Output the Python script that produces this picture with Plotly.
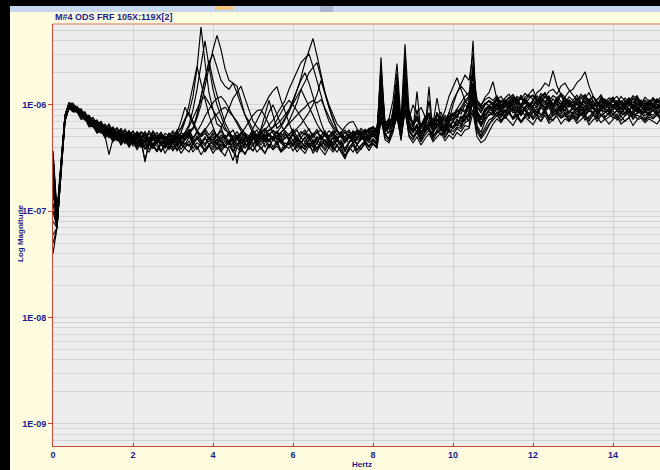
import plotly.graph_objects as go

# Frequency grid (Hz), 0.0 .. 15.2 in 0.1 Hz steps
FREQ = [round(i * 0.1, 1) for i in range(153)]
UNIT = 1e-8  # values below are in units of 1e-8

T01 = [35, 9, 27, 78, 104, 92, 94, 80, 77, 66,
       68, 58, 62, 52, 58, 49, 55, 46, 53, 44,
       51, 42, 50, 44, 49, 40, 48, 43, 47, 52,
       48, 58, 60, 74, 85, 120, 220, 540, 250, 130,
       90, 66, 62, 48, 54, 42, 50, 40, 49, 43,
       50, 41, 47, 52, 39, 48, 44, 51, 40, 47,
       53, 42, 49, 45, 51, 40, 48, 52, 41, 47,
       44, 51, 39, 46, 53, 43, 49, 55, 46, 52,
       58, 50, 180, 62, 66, 56, 95, 54, 200, 68,
       57, 90, 52, 66, 84, 55, 72, 78, 56, 70,
       60, 74, 64, 80, 70, 250, 88, 64, 85, 100,
       86, 102, 80, 97, 88, 110, 84, 98, 92, 80,
       96, 85, 104, 90, 112, 95, 83, 99, 88, 103,
       92, 80, 98, 110, 87, 96, 82, 100, 91, 85,
       99, 88, 94, 82, 101, 90, 86, 97, 84, 93,
       89, 97, 85]

T02 = [12, 7, 24, 72, 98, 101, 88, 86, 74, 76,
       65, 70, 60, 64, 55, 61, 52, 58, 50, 55,
       47, 55, 49, 45, 54, 48, 52, 44, 51, 47,
       55, 46, 52, 48, 58, 60, 75, 100, 150, 230,
       330, 450, 330, 220, 170, 160, 130, 100, 80, 70,
       58, 52, 57, 46, 53, 49, 56, 45, 52, 48,
       55, 47, 53, 58, 49, 54, 45, 51, 57, 48,
       52, 46, 55, 49, 44, 53, 58, 50, 55, 60,
       54, 63, 110, 58, 70, 62, 120, 72, 370, 90,
       64, 76, 60, 70, 62, 75, 72, 64, 58, 78,
       74, 90, 82, 100, 92, 150, 80, 68, 75, 90,
       98, 110, 92, 104, 96, 115, 100, 90, 108, 97,
       105, 94, 112, 100, 120, 98, 106, 92, 110, 101,
       96, 108, 100, 91, 112, 103, 95, 114, 99, 104,
       110, 97, 102, 93, 108, 99, 115, 96, 104, 100,
       95, 107, 101]

T03 = [37, 10, 29, 80, 102, 99, 86, 85, 72, 73,
       62, 66, 56, 60, 50, 55, 47, 53, 45, 50,
       43, 48, 41, 47, 45, 39, 46, 42, 48, 40,
       46, 42, 49, 55, 65, 90, 140, 240, 400, 230,
       140, 100, 80, 62, 52, 46, 42, 48, 39, 45,
       41, 47, 38, 44, 48, 40, 46, 37, 44, 42,
       47, 39, 45, 41, 48, 43, 38, 46, 42, 49,
       40, 46, 43, 37, 44, 48, 42, 50, 45, 48,
       52, 46, 280, 60, 54, 90, 150, 58, 150, 64,
       55, 62, 50, 66, 58, 54, 68, 57, 62, 55,
       60, 66, 62, 75, 110, 400, 64, 55, 70, 82,
       80, 92, 76, 88, 82, 95, 78, 86, 90, 74,
       88, 80, 96, 84, 78, 92, 85, 99, 81, 87,
       83, 94, 79, 88, 97, 82, 76, 90, 86, 93,
       80, 89, 84, 95, 78, 88, 92, 81, 87, 79,
       90, 84, 88]

T04 = [20, 8, 25, 74, 100, 96, 97, 84, 84, 72,
       75, 63, 68, 58, 64, 54, 60, 51, 57, 49,
       56, 47, 55, 50, 46, 55, 49, 53, 45, 54,
       50, 57, 47, 53, 55, 60, 80, 120, 180, 250,
       300, 220, 170, 150, 140, 160, 150, 110, 80, 65,
       54, 58, 48, 56, 51, 47, 57, 50, 54, 46,
       53, 58, 49, 55, 46, 52, 59, 48, 54, 51,
       57, 47, 53, 50, 56, 48, 55, 52, 58, 54,
       62, 55, 120, 66, 74, 110, 245, 70, 130, 86,
       66, 78, 62, 72, 80, 64, 85, 70, 76, 68,
       82, 76, 90, 85, 110, 200, 95, 84, 100, 110,
       104, 118, 98, 112, 102, 125, 106, 96, 114, 100,
       110, 122, 104, 130, 112, 100, 118, 108, 95, 112,
       104, 116, 100, 124, 108, 98, 112, 120, 102, 110,
       118, 102, 109, 97, 114, 105, 120, 100, 110, 104,
       99, 112, 106]

T05 = [8, 7, 23, 70, 95, 88, 87, 76, 75, 64,
       64, 55, 58, 50, 54, 46, 51, 43, 49, 42,
       47, 40, 45, 38, 44, 41, 36, 43, 39, 45,
       38, 44, 55, 70, 100, 150, 230, 160, 110, 80,
       62, 50, 46, 40, 45, 37, 43, 39, 34, 41,
       37, 43, 39, 35, 42, 38, 44, 36, 41, 39,
       43, 36, 41, 38, 44, 35, 40, 42, 37, 43,
       38, 42, 36, 32, 39, 44, 37, 41, 45, 40,
       46, 42, 150, 54, 48, 70, 100, 50, 250, 60,
       50, 56, 47, 58, 148, 52, 55, 60, 49, 57,
       52, 60, 56, 64, 62, 120, 58, 52, 62, 72,
       76, 84, 72, 80, 88, 74, 82, 70, 79, 85,
       73, 81, 76, 86, 71, 79, 84, 75, 82, 70,
       80, 74, 85, 72, 78, 83, 70, 79, 76, 84,
       75, 82, 71, 79, 85, 73, 80, 77, 72, 81,
       76, 83, 74]

T06 = [28, 9, 26, 77, 99, 90, 91, 79, 79, 67,
       70, 60, 64, 54, 61, 51, 56, 49, 54, 46,
       52, 44, 50, 41, 48, 46, 51, 42, 49, 45,
       50, 42, 48, 51, 52, 60, 80, 120, 180, 260,
       170, 120, 90, 68, 58, 48, 52, 43, 50, 41,
       49, 44, 51, 40, 47, 50, 42, 48, 39, 46,
       41, 48, 44, 50, 40, 47, 43, 51, 45, 42,
       49, 41, 47, 36, 44, 50, 42, 48, 51, 46,
       53, 48, 130, 58, 62, 85, 200, 55, 110, 64,
       58, 133, 54, 66, 70, 56, 85, 60, 67, 58,
       70, 64, 76, 70, 85, 130, 72, 64, 80, 90,
       86, 98, 90, 84, 100, 88, 96, 82, 94, 102,
       90, 84, 99, 92, 105, 86, 95, 88, 101, 85,
       97, 89, 102, 84, 94, 99, 87, 95, 91, 86,
       93, 100, 85, 96, 90, 84, 98, 89, 94, 87,
       96, 88, 93]

T07 = [15, 8, 26, 79, 103, 104, 90, 92, 78, 80,
       68, 71, 62, 66, 57, 62, 54, 60, 51, 57,
       49, 56, 52, 48, 57, 50, 55, 47, 54, 51,
       57, 49, 55, 51, 58, 48, 56, 53, 60, 52,
       58, 51, 60, 75, 95, 115, 130, 150, 115, 90,
       70, 62, 56, 60, 51, 58, 54, 49, 57, 52,
       59, 50, 56, 52, 60, 49, 55, 58, 51, 57,
       53, 58, 50, 55, 49, 57, 52, 60, 55, 58,
       62, 56, 200, 66, 74, 70, 110, 64, 140, 76,
       68, 74, 64, 78, 70, 66, 116, 72, 80, 70,
       84, 78, 92, 88, 100, 160, 105, 95, 102, 110,
       100, 114, 96, 108, 118, 99, 106, 94, 112, 103,
       98, 110, 120, 130, 104, 96, 112, 102, 118, 97,
       108, 99, 115, 125, 100, 110, 94, 106, 113, 101,
       112, 96, 108, 102, 117, 98, 105, 111, 95, 107,
       102, 114, 99]

T08 = [5, 7, 24, 73, 96, 89, 89, 77, 77, 64,
       67, 57, 61, 52, 56, 47, 53, 45, 50, 42,
       48, 41, 46, 39, 45, 42, 37, 44, 40, 46,
       40, 45, 38, 44, 41, 47, 39, 43, 36, 42,
       45, 38, 43, 40, 46, 36, 42, 39, 44, 50,
       60, 72, 85, 100, 120, 135, 148, 110, 85, 68,
       54, 46, 42, 38, 44, 40, 36, 43, 39, 45,
       38, 42, 36, 31, 40, 44, 38, 42, 46, 41,
       47, 43, 90, 52, 48, 60, 80, 52, 300, 58,
       50, 55, 46, 57, 60, 49, 58, 52, 56, 70,
       100, 130, 160, 190, 170, 300, 80, 62, 74, 80,
       86, 78, 90, 74, 84, 92, 76, 88, 80, 94,
       77, 86, 80, 92, 74, 84, 89, 78, 85, 73,
       83, 76, 90, 80, 73, 87, 79, 92, 77, 84,
       89, 75, 84, 80, 91, 76, 83, 86, 74, 82,
       80, 87, 76]

T09 = [24, 8, 25, 75, 100, 92, 93, 79, 81, 67,
       69, 58, 64, 53, 59, 50, 55, 47, 52, 45,
       51, 43, 49, 45, 41, 48, 43, 50, 42, 47,
       43, 49, 41, 47, 51, 42, 48, 44, 50, 42,
       47, 43, 50, 40, 46, 49, 41, 48, 44, 50,
       43, 48, 42, 49, 46, 50, 55, 62, 72, 85,
       105, 135, 180, 250, 330, 420, 290, 190, 130, 95,
       75, 58, 52, 46, 50, 44, 49, 53, 46, 52,
       56, 50, 160, 60, 64, 70, 110, 57, 180, 64,
       57, 66, 54, 62, 68, 56, 64, 70, 58, 66,
       62, 70, 66, 76, 85, 140, 82, 72, 86, 94,
       88, 100, 92, 106, 98, 110, 102, 116, 108, 124,
       112, 130, 140, 160, 150, 210, 150, 125, 112, 100,
       92, 104, 96, 88, 101, 93, 108, 90, 99, 94,
       100, 89, 97, 105, 91, 98, 86, 102, 95, 90,
       98, 92, 103]

T10 = [32, 9, 28, 76, 99, 98, 85, 88, 72, 76,
       65, 68, 58, 63, 53, 59, 50, 56, 47, 53,
       45, 52, 46, 53, 44, 50, 47, 42, 51, 45,
       52, 44, 50, 47, 54, 43, 51, 46, 41, 50,
       46, 53, 44, 49, 42, 51, 47, 54, 45, 49,
       52, 46, 53, 58, 64, 72, 82, 95, 110, 140,
       170, 210, 250, 275, 300, 230, 170, 120, 90, 70,
       60, 52, 56, 45, 53, 48, 55, 50, 47, 55,
       50, 59, 100, 56, 66, 80, 170, 58, 120, 70,
       62, 56, 66, 58, 64, 70, 60, 67, 55, 63,
       70, 64, 78, 72, 80, 110, 84, 76, 90, 96,
       94, 104, 90, 100, 110, 95, 107, 98, 114, 102,
       96, 110, 104, 118, 108, 122, 115, 128, 118, 134,
       140, 162, 175, 205, 150, 122, 104, 95, 108, 92,
       99, 106, 93, 101, 110, 94, 103, 97, 88, 104,
       96, 102, 91]

T11 = [18, 8, 26, 80, 105, 99, 96, 85, 86, 73,
       76, 65, 70, 60, 66, 56, 61, 53, 59, 51,
       57, 49, 56, 52, 48, 57, 50, 55, 47, 54,
       50, 56, 47, 54, 58, 49, 55, 51, 57, 48,
       55, 50, 57, 47, 53, 58, 49, 55, 51, 47,
       56, 50, 54, 58, 57, 61, 66, 72, 80, 90,
       102, 118, 140, 165, 200, 225, 250, 180, 130, 100,
       82, 66, 60, 54, 58, 50, 57, 52, 59, 55,
       62, 56, 230, 70, 64, 80, 120, 68, 160, 74,
       68, 78, 64, 75, 80, 68, 82, 76, 70, 84,
       80, 92, 105, 120, 130, 180, 110, 98, 118, 130,
       165, 112, 120, 104, 116, 125, 108, 118, 102, 114,
       122, 106, 118, 128, 110, 100, 116, 124, 105, 119,
       110, 124, 102, 115, 130, 108, 98, 117, 112, 104,
       116, 103, 120, 109, 98, 114, 122, 104, 111, 100,
       117, 106, 112]

T12 = [10, 7, 22, 70, 93, 86, 86, 73, 74, 62,
       63, 54, 57, 49, 52, 45, 49, 42, 47, 40,
       45, 38, 43, 40, 36, 42, 37, 44, 35, 41,
       37, 42, 35, 40, 43, 36, 41, 34, 39, 42,
       35, 40, 37, 33, 41, 36, 32, 39, 35, 40,
       37, 44, 60, 85, 110, 80, 60, 65, 75, 90,
       110, 140, 170, 200, 160, 120, 90, 68, 54, 45,
       40, 36, 41, 33, 37, 42, 35, 39, 43, 37,
       43, 39, 75, 47, 44, 55, 85, 46, 95, 50,
       44, 50, 42, 48, 54, 45, 50, 55, 46, 52,
       48, 55, 51, 58, 60, 85, 50, 44, 47, 56,
       66, 74, 68, 78, 70, 64, 75, 69, 77, 71,
       65, 76, 70, 80, 67, 73, 78, 66, 74, 70,
       76, 67, 73, 79, 65, 72, 77, 68, 74, 66,
       73, 78, 66, 71, 76, 64, 72, 75, 68, 74,
       70, 66, 75]

T13 = [26, 9, 27, 77, 101, 93, 94, 81, 81, 69,
       72, 60, 66, 55, 61, 52, 57, 48, 54, 46,
       53, 44, 51, 48, 43, 50, 45, 52, 44, 49,
       44, 51, 46, 42, 50, 46, 48, 52, 58, 66,
       75, 82, 90, 95, 85, 78, 70, 60, 54, 47,
       51, 44, 49, 53, 45, 50, 47, 54, 48, 53,
       56, 60, 66, 74, 85, 100, 125, 170, 130, 95,
       72, 58, 50, 44, 49, 53, 46, 50, 54, 48,
       55, 50, 120, 58, 62, 66, 95, 56, 130, 62,
       56, 64, 52, 60, 110, 55, 63, 70, 58, 66,
       62, 72, 70, 82, 90, 125, 86, 74, 88, 96,
       90, 102, 94, 108, 96, 104, 112, 100, 118, 126,
       140, 112, 100, 92, 106, 95, 102, 90, 99, 107,
       93, 104, 88, 98, 106, 91, 86, 100, 95, 103,
       98, 90, 104, 93, 86, 100, 95, 107, 89, 97,
       101, 92, 98]

T14 = [22, 8, 26, 78, 100, 100, 88, 89, 75, 78,
       66, 69, 60, 64, 55, 60, 52, 58, 49, 55,
       47, 53, 48, 54, 45, 52, 46, 51, 43, 52,
       46, 53, 44, 50, 54, 47, 56, 65, 78, 92,
       105, 115, 120, 108, 92, 80, 66, 57, 52, 47,
       54, 48, 52, 45, 53, 49, 51, 55, 60, 70,
       85, 105, 140, 115, 95, 80, 66, 57, 52, 47,
       54, 47, 52, 45, 51, 55, 48, 53, 56, 50,
       58, 54, 140, 64, 70, 72, 130, 62, 170, 80,
       64, 72, 60, 70, 76, 62, 70, 74, 66, 76,
       72, 82, 90, 105, 115, 160, 96, 88, 100, 108,
       98, 112, 100, 96, 108, 118, 104, 124, 106, 96,
       110, 102, 115, 106, 122, 100, 112, 98, 116, 105,
       100, 114, 104, 96, 110, 120, 102, 94, 112, 106,
       98, 110, 104, 93, 108, 116, 100, 106, 95, 111,
       102, 96, 108]

T15 = [4, 7, 23, 71, 94, 87, 88, 75, 76, 64,
       66, 56, 59, 51, 34, 48, 50, 43, 48, 41,
       46, 40, 45, 30, 43, 39, 44, 37, 42, 38,
       44, 37, 42, 39, 36, 43, 38, 44, 36, 41,
       38, 43, 36, 41, 38, 30, 40, 36, 43, 38,
       42, 36, 40, 35, 43, 38, 41, 36, 39, 44,
       37, 42, 38, 35, 41, 37, 44, 38, 34, 40,
       36, 41, 38, 33, 40, 36, 42, 38, 44, 40,
       44, 40, 80, 50, 46, 58, 75, 48, 90, 52,
       47, 55, 45, 52, 58, 47, 54, 58, 65, 85,
       110, 130, 150, 135, 120, 100, 62, 50, 58, 66,
       72, 80, 70, 78, 84, 73, 79, 68, 76, 82,
       74, 80, 70, 85, 76, 71, 82, 75, 79, 72,
       78, 71, 83, 76, 70, 80, 74, 82, 72, 77,
       81, 72, 78, 70, 76, 83, 74, 79, 71, 77,
       74, 80, 72]

T16 = [30, 9, 27, 79, 101, 92, 94, 80, 80, 69,
       70, 72, 58, 61, 53, 57, 49, 54, 46, 51,
       44, 50, 43, 49, 46, 41, 48, 43, 50, 42,
       48, 55, 70, 95, 80, 65, 55, 47, 43, 49,
       42, 48, 40, 46, 43, 49, 41, 47, 44, 40,
       47, 52, 58, 68, 85, 100, 80, 65, 55, 48,
       43, 49, 45, 40, 47, 43, 49, 41, 46, 48,
       42, 47, 44, 39, 45, 49, 43, 47, 50, 46,
       52, 47, 100, 56, 60, 62, 90, 54, 110, 62,
       55, 62, 52, 64, 58, 54, 66, 60, 55, 63,
       60, 66, 70, 74, 78, 105, 74, 66, 80, 86,
       82, 94, 86, 80, 96, 84, 92, 79, 90, 97,
       86, 80, 95, 88, 100, 83, 92, 85, 96, 82,
       93, 85, 98, 81, 90, 95, 84, 91, 87, 80,
       90, 96, 82, 92, 86, 80, 94, 85, 89, 83,
       92, 84, 89]

T17 = [16, 8, 25, 76, 99, 97, 89, 87, 76, 75,
       66, 67, 58, 62, 53, 58, 50, 56, 48, 54,
       46, 52, 47, 53, 45, 51, 46, 50, 43, 51,
       46, 52, 60, 72, 85, 70, 58, 50, 54, 47,
       53, 46, 52, 48, 55, 45, 51, 47, 54, 46,
       52, 48, 55, 50, 58, 62, 72, 85, 98, 110,
       100, 88, 76, 66, 58, 52, 56, 48, 53, 50,
       55, 48, 52, 46, 51, 54, 49, 55, 52, 57,
       60, 55, 110, 64, 68, 75, 105, 66, 125, 74,
       100, 82, 95, 78, 70, 66, 74, 68, 62, 72,
       70, 78, 74, 84, 96, 115, 102, 92, 104, 98,
       104, 96, 110, 100, 92, 106, 116, 98, 108, 94,
       112, 100, 120, 106, 96, 114, 104, 124, 100, 110,
       98, 108, 120, 102, 114, 96, 106, 100, 112, 97,
       108, 100, 94, 110, 103, 96, 112, 99, 105, 98,
       110, 101, 96]

T18 = [6, 7, 23, 72, 95, 90, 86, 78, 74, 68,
       62, 60, 54, 57, 49, 53, 46, 50, 43, 48,
       41, 46, 40, 45, 38, 44, 41, 36, 43, 39,
       45, 38, 43, 40, 46, 39, 44, 41, 37, 43,
       40, 45, 38, 43, 47, 40, 46, 52, 60, 70,
       80, 88, 90, 78, 64, 54, 48, 44, 40, 46,
       41, 46, 39, 44, 40, 46, 38, 43, 47, 40,
       45, 48, 55, 62, 68, 70, 60, 52, 48, 44,
       48, 44, 70, 52, 56, 58, 80, 50, 85, 56,
       50, 58, 48, 54, 62, 50, 57, 63, 52, 58,
       56, 62, 60, 68, 72, 90, 56, 48, 54, 64,
       76, 86, 78, 90, 82, 76, 88, 80, 92, 78,
       84, 92, 80, 88, 95, 79, 86, 82, 90, 77,
       86, 80, 92, 78, 88, 84, 93, 79, 85, 90,
       82, 88, 78, 86, 92, 80, 84, 89, 79, 85,
       88, 81, 86]

T19 = [34, 9, 27, 78, 101, 95, 92, 83, 79, 72,
       68, 64, 61, 57, 56, 52, 54, 49, 51, 47,
       50, 44, 48, 29, 46, 43, 49, 45, 42, 48,
       44, 50, 43, 47, 51, 44, 49, 42, 48, 45,
       50, 43, 47, 52, 44, 48, 28, 46, 50, 44,
       48, 52, 45, 50, 54, 46, 51, 44, 49, 53,
       46, 51, 44, 49, 53, 45, 50, 47, 52, 44,
       50, 46, 42, 48, 52, 46, 50, 48, 53, 49,
       54, 50, 140, 58, 62, 68, 115, 56, 160, 66,
       58, 64, 55, 62, 66, 58, 66, 72, 88, 120,
       150, 180, 140, 110, 95, 150, 88, 76, 92, 98,
       92, 102, 88, 98, 106, 92, 100, 86, 96, 104,
       90, 98, 106, 94, 110, 92, 100, 88, 104, 95,
       101, 92, 107, 95, 88, 102, 97, 110, 91, 99,
       95, 104, 90, 99, 107, 92, 98, 88, 101, 94,
       99, 92, 103]

T20 = [19, 8, 26, 79, 104, 101, 93, 90, 80, 79,
       70, 71, 62, 65, 57, 61, 54, 59, 51, 57,
       49, 55, 50, 56, 48, 54, 50, 55, 47, 53,
       49, 56, 50, 55, 62, 75, 92, 110, 120, 104,
       88, 76, 66, 58, 55, 50, 56, 49, 54, 51,
       56, 50, 55, 48, 53, 57, 50, 55, 60, 66,
       72, 80, 88, 95, 104, 110, 104, 112, 92, 76,
       64, 56, 52, 58, 50, 55, 52, 57, 54, 60,
       62, 57, 160, 66, 72, 70, 140, 64, 150, 80,
       66, 76, 62, 74, 84, 66, 78, 85, 70, 80,
       78, 86, 95, 110, 120, 220, 110, 100, 112, 118,
       110, 122, 104, 116, 126, 108, 120, 112, 128, 118,
       124, 110, 128, 118, 134, 140, 126, 150, 160, 138,
       122, 110, 126, 114, 104, 120, 110, 124, 106, 116,
       112, 120, 104, 116, 108, 122, 110, 102, 118, 108,
       114, 106, 120]

TRACES = [T01, T02, T03, T04, T05, T06, T07, T08, T09, T10,
          T11, T12, T13, T14, T15, T16, T17, T18, T19, T20]

bad = [i + 1 for i, t in enumerate(TRACES) if len(t) != len(FREQ)]
assert not bad, f"length mismatch in traces {bad}: {[len(TRACES[i-1]) for i in bad]}"

X_TICKS = [0, 2, 4, 6, 8, 10, 12, 14]
Y_TICKS = [1e-9, 1e-8, 1e-7, 1e-6]
Y_LABELS = ["1E-09", "1E-08", "1E-07", "1E-06"]
TITLE = "M#4 ODS FRF 105X:119X[2]"
X_TITLE = "Hertz"
Y_TITLE = "Log Magnitude"

BLUE = "#1B1B8F"
RED = "#C8463A"
FONT = "Liberation Sans"

fig = go.Figure()
for t in TRACES:
    fig.add_trace(go.Scatter(
        x=FREQ, y=[v * UNIT for v in t], mode="lines",
        line=dict(color="#000000", width=1.15),
        hoverinfo="skip", showlegend=False))

minor_vals = [m * 10.0 ** e for e in range(-10, -4) for m in range(2, 10)]

W, H = 660, 470
L, R, T, B = 53, 0, 24, 24
pw, ph = W - L - R, H - T - B


def px_x(px):
    return (px - L) / pw


def px_y(py):
    return (H - B - py) / ph


fig.update_layout(
    width=W, height=H,
    margin=dict(l=L, r=R, t=T, b=B, pad=0),
    paper_bgcolor="#FFFCE0",
    plot_bgcolor="#EDEDED",
    font=dict(family=FONT, size=9, color=BLUE),
    xaxis=dict(
        range=[0, (W - L) / 40.0],
        tickmode="array", tickvals=X_TICKS,
        ticktext=[f"<b>{v}</b>" for v in X_TICKS],
        showgrid=True, gridcolor="#D3D3D3", gridwidth=1,
        zeroline=False, showline=True, linecolor=RED, linewidth=1,
        ticks="inside", ticklen=3, tickcolor=RED,
        tickfont=dict(family=FONT, size=9, color=BLUE),
    ),
    yaxis=dict(
        type="log", range=[-9.207, -5.24],
        tickmode="array", tickvals=Y_TICKS,
        ticktext=[f"<b>{s}</b>" for s in Y_LABELS],
        showgrid=True, gridcolor="#D3D3D3", gridwidth=1,
        minor=dict(tickmode="array", tickvals=minor_vals, showgrid=True,
                   gridcolor="#D3D3D3", ticklen=0),
        zeroline=False, showline=True, linecolor=RED, linewidth=1,
        ticks="outside", ticklen=4, tickcolor=RED,
        tickfont=dict(family=FONT, size=9, color=BLUE),
    ),
    shapes=[
        dict(type="rect", xref="paper", yref="paper",
             x0=px_x(0), x1=px_x(10), y0=px_y(H), y1=px_y(0),
             fillcolor="black", line=dict(width=0), layer="above"),
        dict(type="rect", xref="paper", yref="paper",
             x0=px_x(0), x1=px_x(W), y0=px_y(6), y1=px_y(0),
             fillcolor="black", line=dict(width=0), layer="above"),
        dict(type="rect", xref="paper", yref="paper",
             x0=px_x(10), x1=px_x(W), y0=px_y(12), y1=px_y(6),
             fillcolor="#C7D8EE", line=dict(width=0), layer="above"),
        dict(type="rect", xref="paper", yref="paper",
             x0=px_x(215), x1=px_x(233), y0=px_y(10), y1=px_y(6),
             fillcolor="#F3C583", line=dict(width=0), layer="above"),
        dict(type="rect", xref="paper", yref="paper",
             x0=px_x(320), x1=px_x(333), y0=px_y(12), y1=px_y(6),
             fillcolor="#A8B8CE", line=dict(width=0), layer="above"),
        dict(type="line", xref="paper", yref="paper",
             x0=0, x1=1, y0=1, y1=1,
             line=dict(color="#E2A08C", width=1.5), layer="above"),
    ],
    annotations=[
        dict(text=f"<b>{TITLE}</b>", xref="paper", yref="paper",
             x=px_x(53), y=px_y(17), xanchor="left", yanchor="middle",
             showarrow=False, font=dict(family=FONT, size=9, color=BLUE)),
        dict(text=f"<b>{X_TITLE}</b>", xref="paper", yref="paper",
             x=px_x(362), y=px_y(464), xanchor="center", yanchor="middle",
             showarrow=False, font=dict(family=FONT, size=8, color=BLUE)),
        dict(text=f"<b>{Y_TITLE}</b>", xref="paper", yref="paper",
             x=px_x(20), y=px_y(234), xanchor="center", yanchor="middle",
             textangle=-90, showarrow=False,
             font=dict(family=FONT, size=8, color=BLUE)),
    ],
)

fig.write_html("out.html")
